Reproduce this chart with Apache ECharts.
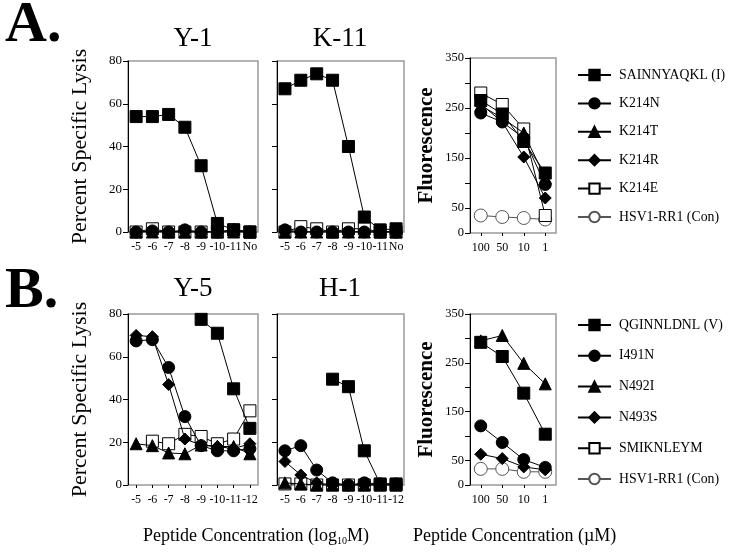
<!DOCTYPE html>
<html><head><meta charset="utf-8">
<script src="https://cdn.jsdelivr.net/npm/echarts@6/dist/echarts.min.js"></script>
<style>html,body{margin:0;padding:0;background:#fff}#c{width:729px;height:556px}</style>
</head><body><div id="c"></div>
<script>
// ---- data ----
const catsA = ['-5','-6','-7','-8','-9','-10','-11','No'];
const catsB = ['-5','-6','-7','-8','-9','-10','-11','-12'];
const catsF = ['100','50','10','1'];
const namesA = ['SAINNYAQKL (I)','K214N','K214T','K214R','K214E','HSV1-RR1 (Con)'];
const namesB = ['QGINNLDNL (V)','I491N','N492I','N493S','SMIKNLEYM','HSV1-RR1 (Con)'];
// Y-1
const y1_sq = [54,54,55,49,31,4,1,0];
const y1_ci = [0,0.5,0,1,0,0,1,0];
const y1_tr = [0,0,0,0,0,0,0,0];
const y1_di = [0,0,0,0,0,0,0,0];
const y1_osq = [0,1.5,0,0,0,0,1,0];
// K-11
const k11_sq = [67,71,74,71,40,7,1,1.5];
const k11_ci = [1,0,0,0,0,0,0,0];
const k11_tr = [0,0,0,0,0,0,0,0];
const k11_di = [0,0,0,0,0,0,0,0];
const k11_osq = [0,2.5,1.5,0,1.5,1.5,0,0];
// Fluorescence A
const fa_sq = [265,238,183,120];
const fa_ci = [240,222,190,97];
const fa_tr = [255,230,200,110];
const fa_di = [258,222,152,70];
const fa_osq = [280,257,208,35];
const fa_oci = [35,32,30,27];
// Y-5
const y5_sq = [null,null,null,null,77.5,71,45,26.5];
const y5_ci = [67.4,68,55,32,18.4,16,16,17];
const y5_tr = [19.3,18.4,15,14.6,18.7,18,18,14.6];
const y5_di = [70,69.4,47,21.5,18.7,18,17,19.3];
const y5_osq = [null,20.5,19.3,23.7,22.7,19.3,21.5,34.7];
// H-1
const h1_sq = [null,null,null,49.5,46,16,0.5,0.5];
const h1_ci = [16,18.4,7,1,0,1,0.5,0.5];
const h1_tr = [1,0.5,0,0,0,0,0,0];
const h1_di = [11,4.7,1,0,0,0,0,0];
const h1_osq = [0.5,0.5,0,0,0,0,0,0];
// Fluorescence B
const fb_sq = [292,263,188,104];
const fb_ci = [121,87,52,36];
const fb_tr = [295,306,249,207];
const fb_di = [63,54,37,31];
const fb_oci = [33,33,27,27];

const FONT = 'Liberation Serif';
const styles = [
  {symbol:'rect', size:12, fill:'#000'},
  {symbol:'circle', size:12, fill:'#000'},
  {symbol:'triangle', size:12, fill:'#000'},
  {symbol:'diamond', size:12, fill:'#000'},
  {symbol:'rect', size:12, fill:'#fff'},
  {symbol:'circle', size:13, fill:'#fff'}
];
function ser(name, idx, data, gi){
  const s = styles[idx];
  return {
    type:'line', name, data, xAxisIndex:gi, yAxisIndex:gi,
    symbol:s.symbol, symbolSize:s.size, showSymbol:true, connectNulls:false,
    lineStyle:{color: idx===5?'#555':'#000', width:1},
    itemStyle:{color:s.fill, borderColor: idx===5?'#555':'#000', borderWidth:1},
    emphasis:{disabled:true}, animation:false, z: 10-idx
  };
}
const grids = [
  {left:128, top:61, width:130, height:171},
  {left:277, top:61, width:127, height:171},
  {left:470, top:58, width:86, height:175},
  {left:128, top:314, width:130, height:171},
  {left:277, top:314, width:127, height:171},
  {left:470, top:314, width:86, height:171}
].map(g=>Object.assign({show:true, borderColor:'#9a9a9a', borderWidth:1.5, backgroundColor:'#fff'}, g));

function xAx(gi, cats){
  return {type:'category', gridIndex:gi, data:cats, boundaryGap:true, offset:4,
    axisLine:{show:false}, axisTick:{show:true, alignWithLabel:true, length:3, lineStyle:{color:'#000'}},
    axisLabel:{interval:0, fontFamily:FONT, fontSize:12, color:'#000', margin:5}};
}
function yLys(gi, showLab){
  return {type:'value', gridIndex:gi, min:0, max:80, interval:20,
    splitLine:{show:false},
    axisLine:{show:true, lineStyle:{color:'#000', width:1}},
    axisTick:{show:true, length:5, lineStyle:{color:'#000'}},
    axisLabel:{show:showLab, fontFamily:FONT, fontSize:13, color:'#000', margin:6},
    name: showLab ? 'Percent Specific Lysis' : '', nameLocation:'middle', nameGap:37,
    nameTextStyle:{fontFamily:FONT, fontSize:22, color:'#000'}};
}
function yFl(gi){
  return {type:'value', gridIndex:gi, min:0, max:350, interval:50,
    splitLine:{show:false},
    axisLine:{show:true, lineStyle:{color:'#000', width:1}},
    axisTick:{show:true, length:5, lineStyle:{color:'#000'}},
    axisLabel:{fontFamily:FONT, fontSize:12.5, color:'#000', margin:6,
      formatter:v=>([0,50,150,250,350].includes(v)?String(v):'')},
    name:'Fluorescence', nameLocation:'middle', nameGap:33,
    nameTextStyle:{fontFamily:FONT, fontSize:21, fontWeight:'bold', color:'#000'}};
}

const series = [
  ser(namesA[0],0,y1_sq,0), ser(namesA[1],1,y1_ci,0), ser(namesA[2],2,y1_tr,0), ser(namesA[3],3,y1_di,0), ser(namesA[4],4,y1_osq,0),
  ser(namesA[0],0,k11_sq,1), ser(namesA[1],1,k11_ci,1), ser(namesA[2],2,k11_tr,1), ser(namesA[3],3,k11_di,1), ser(namesA[4],4,k11_osq,1),
  ser(namesA[0],0,fa_sq,2), ser(namesA[1],1,fa_ci,2), ser(namesA[2],2,fa_tr,2), ser(namesA[3],3,fa_di,2), ser(namesA[4],4,fa_osq,2), ser(namesA[5],5,fa_oci,2),
  ser(namesB[0],0,y5_sq,3), ser(namesB[1],1,y5_ci,3), ser(namesB[2],2,y5_tr,3), ser(namesB[3],3,y5_di,3), ser(namesB[4],4,y5_osq,3),
  ser(namesB[0],0,h1_sq,4), ser(namesB[1],1,h1_ci,4), ser(namesB[2],2,h1_tr,4), ser(namesB[3],3,h1_di,4), ser(namesB[4],4,h1_osq,4),
  ser(namesB[0],0,fb_sq,5), ser(namesB[1],1,fb_ci,5), ser(namesB[2],2,fb_tr,5), ser(namesB[3],3,fb_di,5), ser(namesB[5],5,fb_oci,5)
];

function legend(names, top, gap){
  return {orient:'vertical', left:577, top, itemGap:gap, itemWidth:33, itemHeight:13, padding:0,
    selectedMode:false, data:names,
    textStyle:{fontFamily:FONT, fontSize:13.8, lineHeight:14, color:'#000', padding:[0,0,0,3]}};
}

const txt = (t, x, y, size, weight) => ({type:'text', left:x, top:y,
  style:{text:t, font:`${weight||'normal'} ${size}px "${FONT}"`, fill:'#000'}});
const ttl = (t, x, y) => ({type:'text', x, y, style:{text:t, font:`27px "${FONT}"`, fill:'#000', align:'center', verticalAlign:'middle'}});

const chart = echarts.init(document.getElementById('c'), null, {renderer:'canvas'});
chart.setOption({
  animation:false,
  backgroundColor:'#fff',
  grid: grids,
  xAxis: [xAx(0,catsA), xAx(1,catsA), xAx(2,catsF), xAx(3,catsB), xAx(4,catsB), xAx(5,catsF)],
  yAxis: [yLys(0,true), yLys(1,false), yFl(2), yLys(3,true), yLys(4,false), yFl(5)],
  legend: [legend(namesA, 68, 14.4), legend(namesB, 318, 16.8)],
  series,
  graphic: [
    txt('A.', 5, -3, 58, 'bold'),
    txt('B.', 5, 263, 58, 'bold'),
    ttl('Y-1', 193, 39), ttl('K-11', 340, 39),
    ttl('Y-5', 193, 289), ttl('H-1', 340, 289),
    {type:'text', x:143, y:536, style:{
      text:'{a|Peptide Concentration (log}{s|10}{a|M)}',
      rich:{a:{fontFamily:FONT, fontSize:18, color:'#000'}, s:{fontFamily:FONT, fontSize:10, color:'#000', padding:[10,0,0,0]}},
      verticalAlign:'middle'}},
    {type:'text', x:413, y:536, style:{text:'Peptide Concentration (\u00B5M)', font:`18px "${FONT}"`, fill:'#000', verticalAlign:'middle'}}
  ]
});
</script></body></html>
